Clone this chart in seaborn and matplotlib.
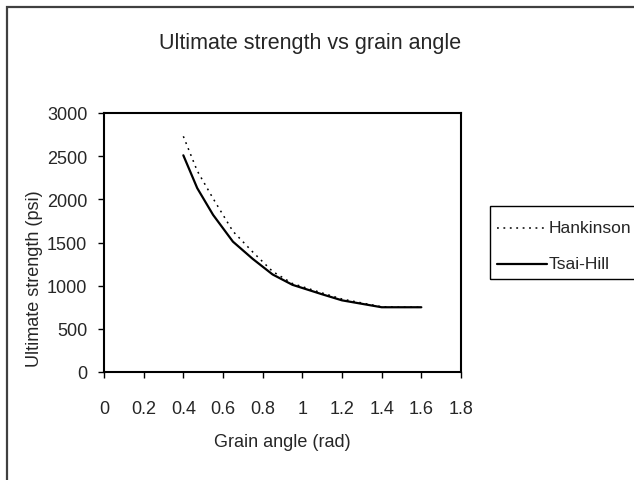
import matplotlib
matplotlib.use("Agg")
import matplotlib.pyplot as plt
import seaborn as sns
import pandas as pd
from matplotlib.patches import Rectangle
from matplotlib.lines import Line2D

angle = [0.4, 0.47, 0.55, 0.65, 0.75, 0.85, 0.95, 1.1, 1.2, 1.3, 1.4, 1.5, 1.6]
hankinson = [2730, 2330, 2010, 1630, 1390, 1165, 1025, 915, 845, 800, 755, 750, 750]
tsai_hill = [2510, 2130, 1820, 1510, 1310, 1130, 1010, 900, 830, 790, 750, 750, 750]
series_names = ["Hankinson", "Tsai-Hill"]
x_ticks = [0, 0.2, 0.4, 0.6, 0.8, 1, 1.2, 1.4, 1.6, 1.8]
x_tick_labels = ["0", "0.2", "0.4", "0.6", "0.8", "1", "1.2", "1.4", "1.6", "1.8"]
y_ticks = [0, 500, 1000, 1500, 2000, 2500, 3000]

df = pd.concat([
    pd.DataFrame({"angle": angle, "strength": hankinson, "series": series_names[0]}),
    pd.DataFrame({"angle": angle, "strength": tsai_hill, "series": series_names[1]}),
])

sns.set_style("white")
plt.rcParams['font.family'] = ['Liberation Sans', 'DejaVu Sans']

W, H = 634, 481
fig = plt.figure(figsize=(W / 100, H / 100), dpi=100)
ax = fig.add_axes([104 / W, 1 - 373 / H, (461 - 104) / W, (373 - 114) / H])

line_dashes = {"Hankinson": (1.2, 3.0), "Tsai-Hill": ""}
line_widths = {"Hankinson": 1.1, "Tsai-Hill": 1.6}
sns.lineplot(data=df, x="angle", y="strength", hue="series", style="series",
             palette={"Hankinson": "black", "Tsai-Hill": "black"},
             dashes=line_dashes, size="series", sizes=line_widths,
             ax=ax, legend=False)

ax.set_xlim(0, 1.8)
ax.set_ylim(0, 3000)
ax.set_xticks(x_ticks)
ax.set_xticklabels(x_tick_labels)
ax.set_yticks(y_ticks)
ax.tick_params(axis="both", direction="out", length=4, width=1, color="black",
               labelsize=13, bottom=True, left=True)
ax.tick_params(axis="x", pad=16)
ax.tick_params(axis="y", pad=8)
for s in ax.spines.values():
    s.set_color("black")
    s.set_linewidth(1.5)

ax.set_xlabel("Grain angle (rad)", fontsize=13, labelpad=12)
ax.set_ylabel("Ultimate strength (psi)", fontsize=13)
ax.yaxis.set_label_coords(35 / W, 1 - 279 / H, transform=fig.transFigure)
ax.yaxis.label.set_va("center")
fig.text(310 / W, 1 - 44 / H, "Ultimate strength vs grain angle", fontsize=15.5,
         ha="center", va="center")

# legend drawn in figure pixel positions
def fx(px):
    return px / W

def fy(py):
    return 1 - py / H

fig.patches.append(Rectangle((fx(490), fy(280)), fx(660) - fx(490), fy(207) - fy(280),
                             transform=fig.transFigure, fill=False,
                             edgecolor="black", linewidth=1.0))
row_y = [229, 265]
for name, ry in zip(series_names, row_y):
    ln = Line2D([fx(497), fx(547)], [fy(ry), fy(ry)], transform=fig.transFigure,
                color="black", lw=line_widths[name])
    if line_dashes[name]:
        ln.set_dashes(line_dashes[name])
    fig.lines.append(ln)
    fig.text(fx(549), fy(ry), name, fontsize=12.5, ha="left", va="center")

# outer chart-area frame
fig.patches.append(Rectangle((6.5 / W, -0.1), 1.2, 1 - 7.5 / H + 0.1,
                             transform=fig.transFigure, fill=False,
                             edgecolor="#404040", linewidth=1.6))

fig.savefig("out.png", dpi=100)
